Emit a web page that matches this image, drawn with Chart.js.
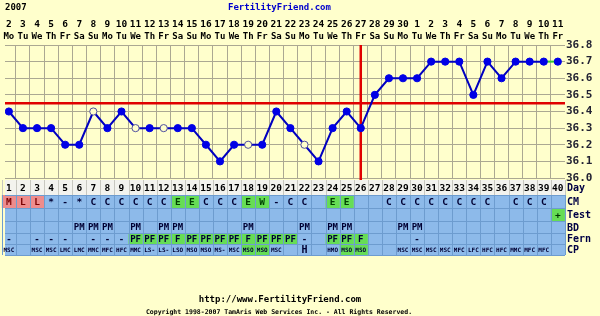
<!doctype html>
<html lang="en">
  <head>
    <meta charset="utf-8">
    <title>Fertility Chart</title>
    <style>
      * { margin: 0; padding: 0; }
      body { background: #ffffcc; }
      .chartBox { width: 600px; height: 316px; }
    </style>
  </head>
  <body>
    <div class="chartBox">
      <canvas id="myChart" width="600" height="316"></canvas>
    </div>
    <script src="https://cdn.jsdelivr.net/npm/chart.js"></script>
    <script>
    // setup
    const year = '2007';
    const dates = ['2','3','4','5','6','7','8','9','10','11','12','13','14','15','16','17','18','19','20','21','22','23','24','25','26','27','28','29','30','1','2','3','4','5','6','7','8','9','10','11'];
    const weekdays = ['Mo','Tu','We','Th','Fr','Sa','Su','Mo','Tu','We','Th','Fr','Sa','Su','Mo','Tu','We','Th','Fr','Sa','Su','Mo','Tu','We','Th','Fr','Sa','Su','Mo','Tu','We','Th','Fr','Sa','Su','Mo','Tu','We','Th','Fr'];
    const temps = [36.4,36.3,36.3,36.3,36.2,36.2,36.4,36.3,36.4,36.3,36.3,36.3,36.3,36.3,36.2,36.1,36.2,36.2,36.2,36.4,36.3,36.2,36.1,36.3,36.4,36.3,36.5,36.6,36.6,36.6,36.7,36.7,36.7,36.5,36.7,36.6,36.7,36.7,36.7,36.7];
    const openDays = [7,10,12,18,22];
    const yTicks = [36.0,36.1,36.2,36.3,36.4,36.5,36.6,36.7,36.8];
    const coverline = 36.45;
    const ovulationDay = 26;

    const rowLabels = ['Day','CM','Test','BD','Fern','CP'];
    const cm = ['M','L','L','*','-','*','C','C','C','C','C','C','E','E','C','C','C','E','W','-','C','C','','E','E','','','C','C','C','C','C','C','C','C','','C','C','C',''];
    const cmRed = [1,2,3];
    const cmGreen = [13,14,18,19,24,25];
    const test = ['','','','','','','','','','','','','','','','','','','','','','','','','','','','','','','','','','','','','','','','+'];
    const testGreen = [40];
    const bd = ['','','','','','PM','PM','PM','','PM','','PM','PM','','','','','PM','','','','PM','','PM','PM','','','','PM','PM','','','','','','','','','',''];
    const fern = ['-','','-','-','-','','-','-','-','PF','PF','PF','F','PF','PF','PF','PF','F','PF','PF','PF','-','','PF','PF','F','','','','-','','','','','','','','','',''];
    const cp = ['MSC','','MSC','MSC','LMC','LMC','MMC','MFC','HFC','MMC','LS-','LS-','LSO','MSO','MSO','MS-','MSC','MSO','MSO','MSC','','H','','HMO','MSO','MSO','','','MSC','MSC','MSC','MSC','MFC','LFC','HFC','HFC','MMC','MFC','MFC',''];
    const cpGreen = [18,19,25,26];

    const FONT = '"DejaVu Sans Mono", monospace';
    const rowEdges = [180, 195, 208, 221, 233, 244, 255];

    const data = {
      datasets: [{
        data: temps.map((t, i) => ({ x: i + 1, y: t })),
        borderColor: '#0000c0',
        borderWidth: 2,
        pointRadius: 3.6,
        pointBorderWidth: 1,
        pointBackgroundColor: temps.map((t, i) => openDays.includes(i + 1) ? '#ffffcc' : '#0000e6'),
        pointBorderColor: temps.map((t, i) => openDays.includes(i + 1) ? '#5050a0' : '#0000e6'),
        segment: {
          borderColor: c => c.p0DataIndex === 38 ? '#33cc33' : undefined
        }
      }]
    };

    // background + red lines
    const bgPlugin = {
      id: 'bg',
      beforeDraw(chart) {
        const c = chart.ctx;
        c.save();
        c.fillStyle = '#ffffcc';
        c.fillRect(0, 0, chart.width, chart.height);
        c.restore();
      },
      beforeDatasetsDraw(chart) {
        const c = chart.ctx, x = chart.scales.x, y = chart.scales.y, a = chart.chartArea;
        c.save();
        c.strokeStyle = '#e00000';
        c.lineWidth = 2.5;
        c.beginPath();
        c.moveTo(a.left, y.getPixelForValue(coverline));
        c.lineTo(a.right, y.getPixelForValue(coverline));
        c.moveTo(x.getPixelForValue(ovulationDay), a.top);
        c.lineTo(x.getPixelForValue(ovulationDay), rowEdges[0]);
        c.stroke();
        c.restore();
      }
    };

    function cellText(c, txt, x, y, size, color) {
      if (!txt) return;
      c.font = 'bold ' + size + 'px ' + FONT;
      c.fillStyle = color;
      c.fillText(txt, x, y);
    }

    // header texts and bottom table
    const tablePlugin = {
      id: 'table',
      afterDraw(chart) {
        const c = chart.ctx, x = chart.scales.x, a = chart.chartArea;
        const n = dates.length;
        c.save();
        c.textBaseline = 'middle';
        c.textAlign = 'left';
        cellText(c, year, 5, 8, 9, '#000000');
        cellText(c, 'FertilityFriend.com', 228, 8, 9, '#0000cc');
        c.textAlign = 'center';
        for (let i = 0; i < n; i++) {
          const cx = x.getPixelForValue(i + 1);
          cellText(c, dates[i], cx, 25, 9.5, '#000000');
          cellText(c, weekdays[i], cx, 37, 9, '#000000');
        }

        // row backgrounds
        c.fillStyle = '#f3f3ee';
        c.fillRect(a.left, rowEdges[0], a.right - a.left, rowEdges[1] - rowEdges[0]);
        c.fillStyle = '#8dbaea';
        c.fillRect(a.left, rowEdges[1], a.right - a.left, rowEdges[6] - rowEdges[1]);

        const fillCell = (col, row, color) => {
          const l = x.getPixelForValue(col - 0.5), r = x.getPixelForValue(col + 0.5);
          c.fillStyle = color;
          c.fillRect(l, rowEdges[row], r - l, rowEdges[row + 1] - rowEdges[row]);
        };
        cmRed.forEach(d => fillCell(d, 1, '#ee8c8c'));
        cmGreen.forEach(d => fillCell(d, 1, '#66dd55'));
        testGreen.forEach(d => fillCell(d, 2, '#66dd55'));
        fern.forEach((f, i) => { if (f === 'PF' || f === 'F') fillCell(i + 1, 4, '#66dd55'); });
        cpGreen.forEach(d => fillCell(d, 5, '#66dd55'));

        // cell lines
        c.lineWidth = 1;
        c.strokeStyle = '#c8c8c0';
        c.beginPath();
        for (let i = 0; i <= n; i++) {
          const px = Math.round(x.getPixelForValue(i + 0.5)) + 0.5;
          c.moveTo(px, rowEdges[0]);
          c.lineTo(px, rowEdges[1]);
        }
        c.stroke();
        c.strokeStyle = '#6d9ccf';
        c.beginPath();
        for (let i = 0; i <= n; i++) {
          const px = Math.round(x.getPixelForValue(i + 0.5)) + 0.5;
          c.moveTo(px, rowEdges[1]);
          c.lineTo(px, rowEdges[6]);
        }
        for (let r = 1; r < rowEdges.length; r++) {
          c.moveTo(a.left, rowEdges[r] + 0.5);
          c.lineTo(a.right, rowEdges[r] + 0.5);
        }
        c.stroke();

        // cell texts
        const mid = r => (rowEdges[r] + rowEdges[r + 1]) / 2 + 1;
        for (let i = 0; i < n; i++) {
          const cx = x.getPixelForValue(i + 1);
          const d = i + 1;
          cellText(c, String(d), cx, mid(0), 9.5, '#000000');
          cellText(c, cm[i], cx, mid(1), 9.5, cmRed.includes(d) ? '#7a0000' : (cmGreen.includes(d) ? '#004000' : '#000033'));
          cellText(c, test[i], cx, mid(2), 9.5, '#003300');
          cellText(c, bd[i], cx, mid(3), 9, '#000033');
          cellText(c, fern[i], cx, mid(4), 9, '#000033');
          cellText(c, cp[i], cx, mid(5), cp[i].length === 1 ? 10 : 6, '#000033');
        }

        // row labels on the right
        c.textAlign = 'left';
        rowLabels.forEach((l, r) => cellText(c, l, a.right + 2, mid(r), 10, '#000044'));

        // footer
        c.textAlign = 'center';
        cellText(c, 'http://www.FertilityFriend.com', 280, 300, 9, '#000000');
        cellText(c, 'Copyright 1998-2007 TamAris Web Services Inc. - All Rights Reserved.', 279, 312, 6.5, '#000000');
        c.restore();
      }
    };

    // config
    const config = {
      type: 'line',
      data,
      options: {
        responsive: false,
        animation: false,
        devicePixelRatio: 1,
        layout: { padding: { top: 45, bottom: 138, left: 0, right: 0 } },
        plugins: { legend: { display: false }, tooltip: { enabled: false } },
        scales: {
          x: {
            type: 'linear',
            min: 0.725,
            max: 40.51,
            afterBuildTicks: s => { s.ticks = dates.slice(1).map((d, i) => ({ value: i + 1.5 })); },
            afterFit: s => { s.height = 0; },
            ticks: { display: false },
            grid: { color: '#aba892', drawTicks: false },
            border: { display: false }
          },
          y: {
            position: 'right',
            min: 36.0,
            max: 36.8,
            afterBuildTicks: s => { s.ticks = yTicks.map(v => ({ value: v })); },
            afterFit: s => { s.width = 35; },
            ticks: {
              padding: 1,
              color: '#222233',
              font: { family: FONT, weight: 'bold', size: 11 },
              callback: v => Number(v).toFixed(1)
            },
            grid: { color: '#aba892', drawTicks: false },
            border: { display: false }
          }
        }
      },
      plugins: [bgPlugin, tablePlugin]
    };

    // render init block
    const myChart = new Chart(
      document.getElementById('myChart'),
      config
    );
    </script>
  </body>
</html>
